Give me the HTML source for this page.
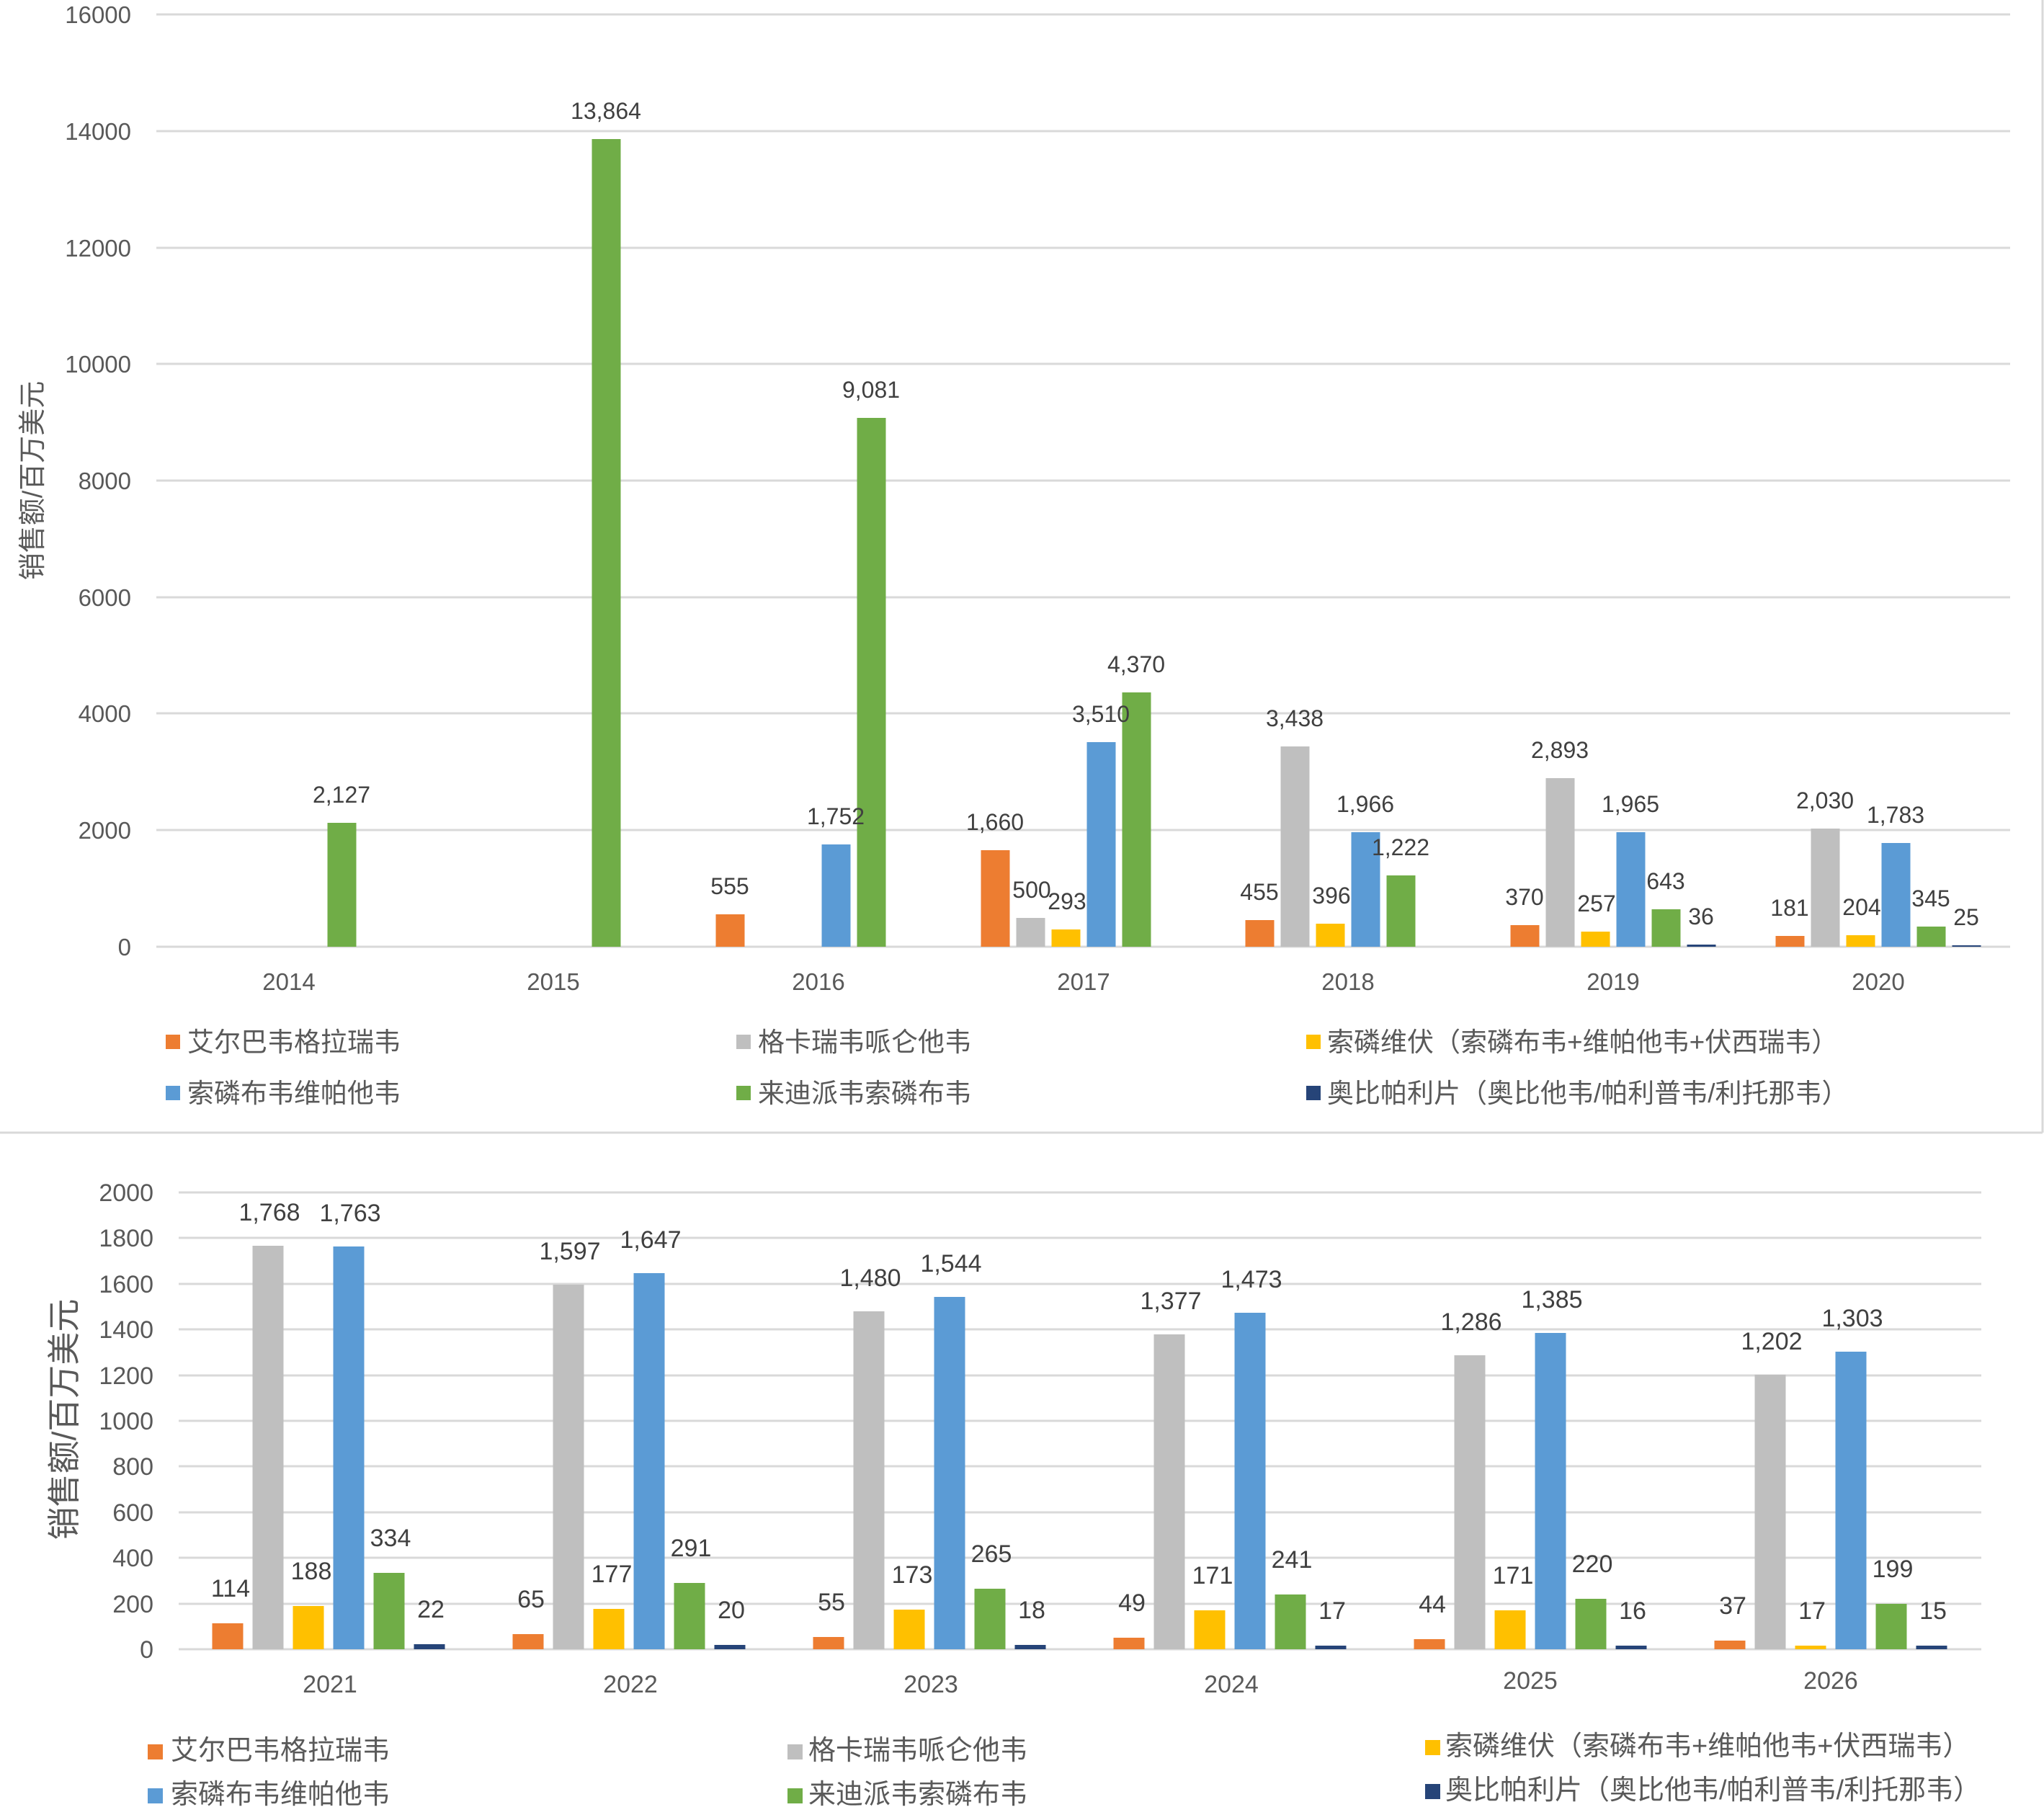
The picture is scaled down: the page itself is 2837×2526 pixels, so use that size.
<!DOCTYPE html>
<html><head><meta charset="utf-8"><style>
html,body{margin:0;padding:0;background:#fff}
svg{display:block}
text{font-family:"Liberation Sans","Noto Sans CJK SC",sans-serif}
.t{font-size:33px;fill:#595959}
.d{font-size:32px;fill:#404040;text-anchor:middle}
.lg{font-size:37px;fill:#595959}
.g{stroke:#d9d9d9;stroke-width:3}
</style></head><body>
<svg width="2837" height="2526" viewBox="0 0 2837 2526" xmlns="http://www.w3.org/2000/svg">
<rect x="0" y="0" width="2837" height="2526" fill="#fff"/>
<line x1="0" y1="1572" x2="2835" y2="1572" stroke="#d9d9d9" stroke-width="3"/>
<line x1="2835" y1="0" x2="2835" y2="1572" stroke="#d9d9d9" stroke-width="3"/>

<g class="g">
<line x1="217" y1="20" x2="2790" y2="20"/><line x1="217" y1="182" x2="2790" y2="182"/>
<line x1="217" y1="344" x2="2790" y2="344"/><line x1="217" y1="505" x2="2790" y2="505"/>
<line x1="217" y1="667" x2="2790" y2="667"/><line x1="217" y1="829" x2="2790" y2="829"/>
<line x1="217" y1="990" x2="2790" y2="990"/><line x1="217" y1="1152" x2="2790" y2="1152"/>
<line x1="217" y1="1314" x2="2790" y2="1314"/>
</g>
<g class="t" text-anchor="end">
<text x="182" y="32">16000</text><text x="182" y="194">14000</text><text x="182" y="356">12000</text>
<text x="182" y="517">10000</text><text x="182" y="679">8000</text><text x="182" y="841">6000</text>
<text x="182" y="1002">4000</text><text x="182" y="1164">2000</text><text x="182" y="1326">0</text>
</g>
<text transform="translate(58,667) rotate(-90)" text-anchor="middle" style="font-size:38px;fill:#595959">销售额/百万美元</text>
<g class="t" text-anchor="middle">
<text x="401" y="1374">2014</text><text x="768" y="1374">2015</text><text x="1136" y="1374">2016</text>
<text x="1504" y="1374">2017</text><text x="1871" y="1374">2018</text><text x="2239" y="1374">2019</text><text x="2607" y="1374">2020</text>
</g>
<rect x="454.5" y="1142" width="40" height="172" fill="#70AD47"/>
<rect x="821.5" y="193" width="40" height="1121" fill="#70AD47"/>
<rect x="993.5" y="1269" width="40" height="45" fill="#ED7D31"/>
<rect x="1140.5" y="1172" width="40" height="142" fill="#5B9BD5"/>
<rect x="1189.5" y="580" width="40" height="734" fill="#70AD47"/>
<rect x="1361.5" y="1180" width="40" height="134" fill="#ED7D31"/>
<rect x="1410.5" y="1274" width="40" height="40" fill="#BFBFBF"/>
<rect x="1459.5" y="1290" width="40" height="24" fill="#FFC000"/>
<rect x="1508.5" y="1030" width="40" height="284" fill="#5B9BD5"/>
<rect x="1557.5" y="961" width="40" height="353" fill="#70AD47"/>
<rect x="1728.5" y="1277" width="40" height="37" fill="#ED7D31"/>
<rect x="1777.5" y="1036" width="40" height="278" fill="#BFBFBF"/>
<rect x="1826.5" y="1282" width="40" height="32" fill="#FFC000"/>
<rect x="1875.5" y="1155" width="40" height="159" fill="#5B9BD5"/>
<rect x="1924.5" y="1215" width="40" height="99" fill="#70AD47"/>
<rect x="2096.5" y="1284" width="40" height="30" fill="#ED7D31"/>
<rect x="2145.5" y="1080" width="40" height="234" fill="#BFBFBF"/>
<rect x="2194.5" y="1293" width="40" height="21" fill="#FFC000"/>
<rect x="2243.5" y="1155" width="40" height="159" fill="#5B9BD5"/>
<rect x="2292.5" y="1262" width="40" height="52" fill="#70AD47"/>
<rect x="2341.5" y="1311" width="40" height="3" fill="#264478"/>
<rect x="2464.5" y="1299" width="40" height="15" fill="#ED7D31"/>
<rect x="2513.5" y="1150" width="40" height="164" fill="#BFBFBF"/>
<rect x="2562.5" y="1298" width="40" height="16" fill="#FFC000"/>
<rect x="2611.5" y="1170" width="40" height="144" fill="#5B9BD5"/>
<rect x="2660.5" y="1286" width="40" height="28" fill="#70AD47"/>
<rect x="2709.5" y="1312" width="40" height="2" fill="#264478"/>
<g class="d">
<text x="474" y="1114">2,127</text>
<text x="841" y="165">13,864</text>
<text x="1013" y="1241">555</text><text x="1160" y="1144">1,752</text><text x="1209" y="552">9,081</text>
<text x="1381" y="1152">1,660</text><text x="1432" y="1246">500</text><text x="1481" y="1262">293</text><text x="1528" y="1002">3,510</text><text x="1577" y="933">4,370</text>
<text x="1748" y="1249">455</text><text x="1797" y="1008">3,438</text><text x="1848" y="1254">396</text><text x="1895" y="1127">1,966</text><text x="1944" y="1187">1,222</text>
<text x="2116" y="1256">370</text><text x="2165" y="1052">2,893</text><text x="2216" y="1265">257</text><text x="2263" y="1127">1,965</text><text x="2312" y="1234">643</text><text x="2361" y="1283">36</text>
<text x="2484" y="1271">181</text><text x="2533" y="1122">2,030</text><text x="2584" y="1270">204</text><text x="2631" y="1142">1,783</text><text x="2680" y="1258">345</text><text x="2729" y="1284">25</text>
</g>
<rect x="230" y="1436" width="20" height="20" fill="#ED7D31"/><text class="lg" x="260" y="1459">艾尔巴韦格拉瑞韦</text>
<rect x="1022" y="1436" width="20" height="20" fill="#BFBFBF"/><text class="lg" x="1052" y="1459">格卡瑞韦哌仑他韦</text>
<rect x="1813" y="1436" width="20" height="20" fill="#FFC000"/><text class="lg" x="1842" y="1459">索磷维伏（索磷布韦+维帕他韦+伏西瑞韦）</text>
<rect x="230" y="1507" width="20" height="20" fill="#5B9BD5"/><text class="lg" x="260" y="1530">索磷布韦维帕他韦</text>
<rect x="1022" y="1507" width="20" height="20" fill="#70AD47"/><text class="lg" x="1052" y="1530">来迪派韦索磷布韦</text>
<rect x="1813" y="1507" width="20" height="20" fill="#264478"/><text class="lg" x="1842" y="1530">奥比帕利片（奥比他韦/帕利普韦/利托那韦）</text>

<g transform="translate(0,-8)">
<g class="g">
<line x1="248" y1="1663" x2="2750" y2="1663"/><line x1="248" y1="1726" x2="2750" y2="1726"/>
<line x1="248" y1="1790" x2="2750" y2="1790"/><line x1="248" y1="1853" x2="2750" y2="1853"/>
<line x1="248" y1="1917" x2="2750" y2="1917"/><line x1="248" y1="1980" x2="2750" y2="1980"/>
<line x1="248" y1="2043" x2="2750" y2="2043"/><line x1="248" y1="2107" x2="2750" y2="2107"/>
<line x1="248" y1="2170" x2="2750" y2="2170"/><line x1="248" y1="2234" x2="2750" y2="2234"/>
<line x1="248" y1="2297" x2="2750" y2="2297"/>
</g>
<g class="t" text-anchor="end" style="font-size:34px">
<text x="213" y="1675">2000</text><text x="213" y="1738">1800</text><text x="213" y="1802">1600</text>
<text x="213" y="1865">1400</text><text x="213" y="1929">1200</text><text x="213" y="1992">1000</text>
<text x="213" y="2055">800</text><text x="213" y="2119">600</text><text x="213" y="2182">400</text>
<text x="213" y="2246">200</text><text x="213" y="2309">0</text>
</g>
<text transform="translate(105,1978) rotate(-90)" text-anchor="middle" style="font-size:46px;fill:#595959">销售额/百万美元</text>
<g class="t" text-anchor="middle" style="font-size:34px">
<text x="458" y="2357">2021</text><text x="875" y="2357">2022</text><text x="1292" y="2357">2023</text>
<text x="1709" y="2357">2024</text><text x="2124" y="2352">2025</text><text x="2541" y="2352">2026</text>
</g>
<rect x="294.5" y="2261" width="43" height="36" fill="#ED7D31"/>
<rect x="350.5" y="1737" width="43" height="560" fill="#BFBFBF"/>
<rect x="406.5" y="2237" width="43" height="60" fill="#FFC000"/>
<rect x="462.5" y="1738" width="43" height="559" fill="#5B9BD5"/>
<rect x="518.5" y="2191" width="43" height="106" fill="#70AD47"/>
<rect x="574.5" y="2290" width="43" height="7" fill="#264478"/>
<rect x="711.5" y="2276" width="43" height="21" fill="#ED7D31"/>
<rect x="767.5" y="1791" width="43" height="506" fill="#BFBFBF"/>
<rect x="823.5" y="2241" width="43" height="56" fill="#FFC000"/>
<rect x="879.5" y="1775" width="43" height="522" fill="#5B9BD5"/>
<rect x="935.5" y="2205" width="43" height="92" fill="#70AD47"/>
<rect x="991.5" y="2291" width="43" height="6" fill="#264478"/>
<rect x="1128.5" y="2280" width="43" height="17" fill="#ED7D31"/>
<rect x="1184.5" y="1828" width="43" height="469" fill="#BFBFBF"/>
<rect x="1240.5" y="2242" width="43" height="55" fill="#FFC000"/>
<rect x="1296.5" y="1808" width="43" height="489" fill="#5B9BD5"/>
<rect x="1352.5" y="2213" width="43" height="84" fill="#70AD47"/>
<rect x="1408.5" y="2291" width="43" height="6" fill="#264478"/>
<rect x="1545.5" y="2281" width="43" height="16" fill="#ED7D31"/>
<rect x="1601.5" y="1860" width="43" height="437" fill="#BFBFBF"/>
<rect x="1657.5" y="2243" width="43" height="54" fill="#FFC000"/>
<rect x="1713.5" y="1830" width="43" height="467" fill="#5B9BD5"/>
<rect x="1769.5" y="2221" width="43" height="76" fill="#70AD47"/>
<rect x="1825.5" y="2292" width="43" height="5" fill="#264478"/>
<rect x="1962.5" y="2283" width="43" height="14" fill="#ED7D31"/>
<rect x="2018.5" y="1889" width="43" height="408" fill="#BFBFBF"/>
<rect x="2074.5" y="2243" width="43" height="54" fill="#FFC000"/>
<rect x="2130.5" y="1858" width="43" height="439" fill="#5B9BD5"/>
<rect x="2186.5" y="2227" width="43" height="70" fill="#70AD47"/>
<rect x="2242.5" y="2292" width="43" height="5" fill="#264478"/>
<rect x="2379.5" y="2285" width="43" height="12" fill="#ED7D31"/>
<rect x="2435.5" y="1916" width="43" height="381" fill="#BFBFBF"/>
<rect x="2491.5" y="2292" width="43" height="5" fill="#FFC000"/>
<rect x="2547.5" y="1884" width="43" height="413" fill="#5B9BD5"/>
<rect x="2603.5" y="2234" width="43" height="63" fill="#70AD47"/>
<rect x="2659.5" y="2292" width="43" height="5" fill="#264478"/>
<g class="d" style="font-size:34px">
<text x="320" y="2224">114</text><text x="374" y="1702">1,768</text><text x="432" y="2200">188</text><text x="486" y="1703">1,763</text><text x="542" y="2154">334</text><text x="598" y="2253">22</text>
<text x="737" y="2239">65</text><text x="791" y="1756">1,597</text><text x="849" y="2204">177</text><text x="903" y="1740">1,647</text><text x="959" y="2168">291</text><text x="1015" y="2254">20</text>
<text x="1154" y="2243">55</text><text x="1208" y="1793">1,480</text><text x="1266" y="2205">173</text><text x="1320" y="1773">1,544</text><text x="1376" y="2176">265</text><text x="1432" y="2254">18</text>
<text x="1571" y="2244">49</text><text x="1625" y="1825">1,377</text><text x="1683" y="2206">171</text><text x="1737" y="1795">1,473</text><text x="1793" y="2184">241</text><text x="1849" y="2255">17</text>
<text x="1988" y="2246">44</text><text x="2042" y="1854">1,286</text><text x="2100" y="2206">171</text><text x="2154" y="1823">1,385</text><text x="2210" y="2190">220</text><text x="2266" y="2255">16</text>
<text x="2405" y="2248">37</text><text x="2459" y="1881">1,202</text><text x="2515" y="2255">17</text><text x="2571" y="1849">1,303</text><text x="2627" y="2197">199</text><text x="2683" y="2255">15</text>
</g>
</g>
<rect x="205" y="2421" width="21" height="21" fill="#ED7D31"/><text class="lg" x="237" y="2442" style="font-size:38px">艾尔巴韦格拉瑞韦</text>
<rect x="1093" y="2421" width="21" height="21" fill="#BFBFBF"/><text class="lg" x="1122" y="2442" style="font-size:38px">格卡瑞韦哌仑他韦</text>
<rect x="1978" y="2415" width="21" height="21" fill="#FFC000"/><text class="lg" x="2006" y="2436" style="font-size:38px">索磷维伏（索磷布韦+维帕他韦+伏西瑞韦）</text>
<rect x="205" y="2482" width="21" height="21" fill="#5B9BD5"/><text class="lg" x="237" y="2503" style="font-size:38px">索磷布韦维帕他韦</text>
<rect x="1093" y="2482" width="21" height="21" fill="#70AD47"/><text class="lg" x="1122" y="2503" style="font-size:38px">来迪派韦索磷布韦</text>
<rect x="1978" y="2476" width="21" height="21" fill="#264478"/><text class="lg" x="2006" y="2497" style="font-size:38px">奥比帕利片（奥比他韦/帕利普韦/利托那韦）</text>
</svg>
</body></html>
